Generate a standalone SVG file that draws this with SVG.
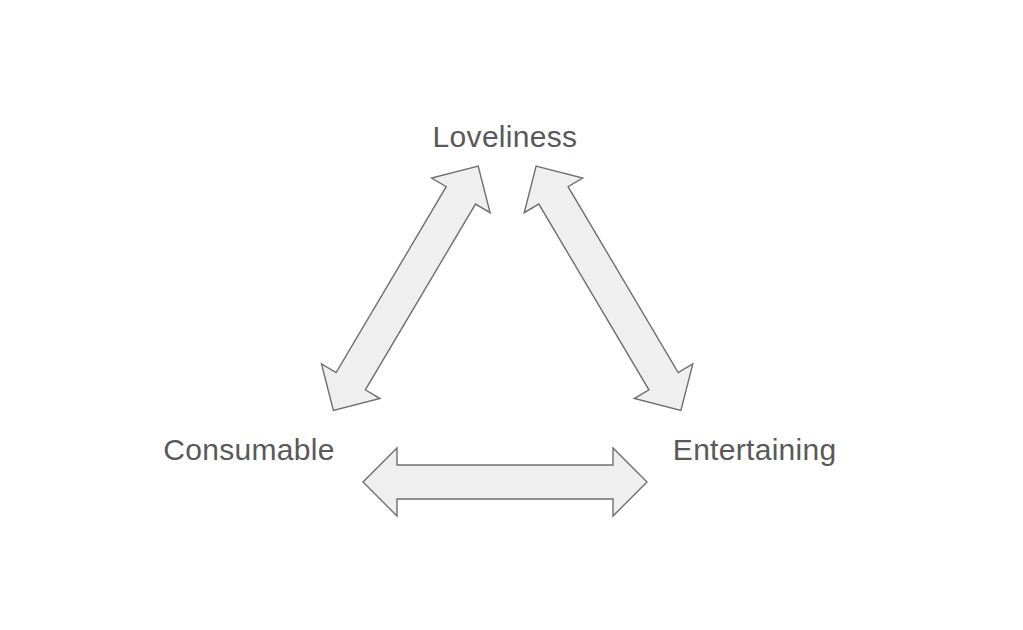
<svg xmlns="http://www.w3.org/2000/svg" width="1023" height="630" viewBox="0 0 1023 630">
<style>
.lbl{font-family:"Liberation Sans",Arial,sans-serif;font-size:30px;letter-spacing:0.3px;fill:#595959;text-anchor:middle}
.arr{fill:#efefef;stroke:#6f6f6f;stroke-width:1.4;stroke-linejoin:miter}
</style>
<defs>
<path id="dbl" d="M -142 0 L -108 -34 L -108 -17 L 108 -17 L 108 -34 L 142 0 L 108 34 L 108 17 L -108 17 L -108 34 Z"/>
</defs>
<rect width="1023" height="630" fill="#ffffff"/>
<g id="connectors">
<use href="#dbl" class="arr" transform="translate(405.8 288.3) rotate(-59.35)"/>
<use href="#dbl" class="arr" transform="translate(608.5 288.3) rotate(59.35)"/>
<use href="#dbl" class="arr" transform="translate(505 482)"/>
</g>
<g id="loveliness"><text class="lbl" x="505" y="147">Loveliness</text></g>
<g id="consumable"><text class="lbl" x="249" y="460">Consumable</text></g>
<g id="entertaining"><text class="lbl" x="754.7" y="460">Entertaining</text></g>
</svg>
